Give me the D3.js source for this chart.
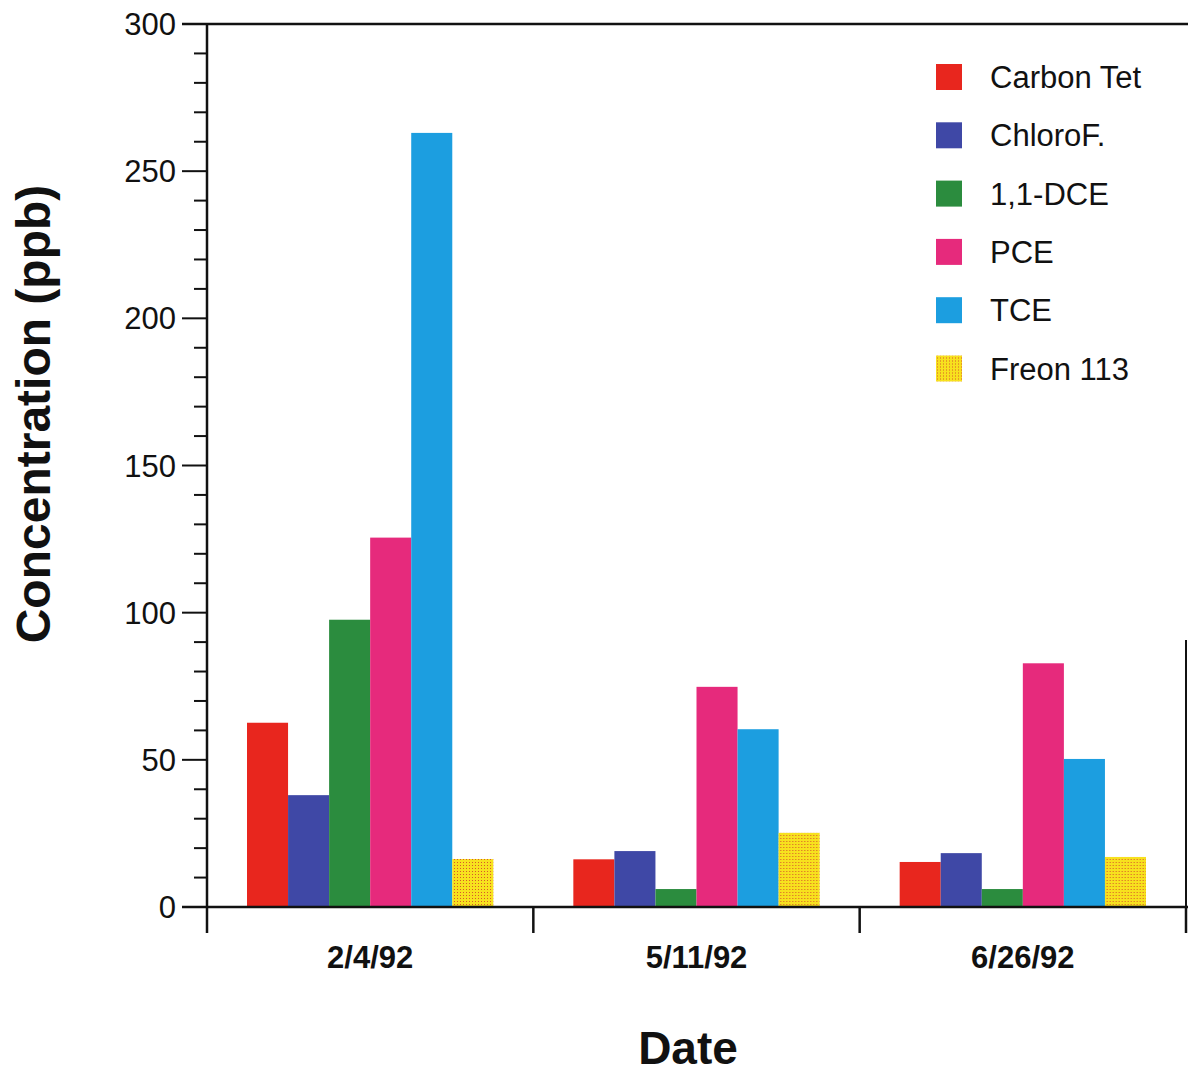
<!DOCTYPE html>
<html>
<head>
<meta charset="utf-8">
<script src="https://cdn.jsdelivr.net/npm/d3@7"></script>
<style>
  body { margin: 0; background: #fff; }
  text { font-family: "Liberation Sans", Arial, Helvetica, sans-serif; fill: #111; }
</style>
</head>
<body>
<div id="chart"></div>
<script>
// data
const dates = ["2/4/92", "5/11/92", "6/26/92"];
const compounds = ["Carbon Tet", "ChloroF.", "1,1-DCE", "PCE", "TCE", "Freon 113"];
const carbonTet = [62.6, 16.2, 15.3];
const chloroF = [38, 19, 18.3];
const dce = [97.6, 6.1, 6.1];
const pce = [125.5, 74.8, 82.8];
const tce = [263, 60.4, 50.3];
const freon = [16.3, 25.2, 17];
const yTicks = [0, 50, 100, 150, 200, 250, 300];
const compoundColors = ["#e8261e", "#3f48a6", "#2b8c3e", "#e62a7c", "#1c9ee0", "url(#dots)"];

const series = [carbonTet, chloroF, dce, pce, tce, freon];

const width = 1188, height = 1075;
const svg = d3.select('#chart').append('svg')
  .attr("width", width)
  .attr("height", height);

// halftone look of the yellow bars
const pat = svg.append("defs").append("pattern")
  .attr("id", "dots")
  .attr("width", 3).attr("height", 3)
  .attr("patternUnits", "userSpaceOnUse");
pat.append("rect").attr("width", 3).attr("height", 3).attr("fill", "#f7e11e");
pat.append("rect").attr("x", 1).attr("y", 1).attr("width", 1).attr("height", 1).attr("fill", "#d8582a");

const plotLeft = 207, plotRight = 1186, plotTop = 24, plotBottom = 907;

const y = d3.scaleLinear().domain([0, 300]).range([plotBottom, plotTop]);
const x0 = d3.scaleBand().domain(dates).range([plotLeft, plotRight]);
const x1 = d3.scaleBand().domain(compounds).range([40, x0.bandwidth() - 40]);

// bars
dates.forEach(function(d, i) {
  svg.append("g")
    .attr("transform", "translate(" + x0(d) + ",0)")
    .selectAll("rect")
    .data(compounds)
    .enter()
    .append("rect")
      .attr("x", function(c) { return x1(c); })
      .attr("y", function(c, j) { return y(series[j][i]); })
      .attr("width", x1.bandwidth())
      .attr("height", function(c, j) { return plotBottom - y(series[j][i]); })
      .attr("fill", function(c, j) { return compoundColors[j]; });
});

// left axis with major + minor ticks
const yAxis = svg.append("g").attr("transform", "translate(" + plotLeft + ",0)");
yAxis.append("line").attr("y1", plotTop).attr("y2", plotBottom).attr("stroke", "#111").attr("stroke-width", 2.5);
yAxis.selectAll(".minor")
  .data(d3.range(0, 301, 10).filter(function(v) { return v % 50 != 0; }))
  .enter().append("line")
    .attr("x1", -13).attr("x2", 0)
    .attr("y1", function(v) { return y(v); }).attr("y2", function(v) { return y(v); })
    .attr("stroke", "#111").attr("stroke-width", 2);
yAxis.selectAll(".major")
  .data(yTicks)
  .enter().append("line")
    .attr("x1", -25).attr("x2", 0)
    .attr("y1", function(v) { return y(v); }).attr("y2", function(v) { return y(v); })
    .attr("stroke", "#111").attr("stroke-width", 2);
yAxis.selectAll(".lbl")
  .data(yTicks)
  .enter().append("text")
    .attr("x", -31)
    .attr("y", function(v) { return y(v); })
    .attr("dy", "0.36em")
    .attr("text-anchor", "end")
    .style("font-size", "31px")
    .text(function(v) { return v; });

// top frame and baseline
svg.append("line").attr("x1", plotLeft - 25).attr("x2", width).attr("y1", plotTop).attr("y2", plotTop)
  .attr("stroke", "#111").attr("stroke-width", 2.5);
svg.append("line").attr("x1", plotLeft - 25).attr("x2", width).attr("y1", plotBottom).attr("y2", plotBottom)
  .attr("stroke", "#111").attr("stroke-width", 2.5);
svg.append("line").attr("x1", plotRight).attr("x2", plotRight).attr("y1", 640).attr("y2", plotBottom)
  .attr("stroke", "#111").attr("stroke-width", 2);

// x ticks at band edges + labels
const edges = dates.map(function(d) { return x0(d); }).concat([plotRight]);
svg.selectAll(".xt")
  .data(edges)
  .enter().append("line")
    .attr("x1", function(v) { return v; }).attr("x2", function(v) { return v; })
    .attr("y1", plotBottom).attr("y2", plotBottom + 26)
    .attr("stroke", "#111").attr("stroke-width", 2.5);
svg.selectAll(".xl")
  .data(dates)
  .enter().append("text")
    .attr("x", function(d) { return x0(d) + x0.bandwidth() / 2; })
    .attr("y", 968)
    .attr("text-anchor", "middle")
    .style("font-size", "31px")
    .style("font-weight", "bold")
    .text(function(d) { return d; });

// axis titles
svg.append("text")
  .attr("x", 688).attr("y", 1064)
  .attr("text-anchor", "middle")
  .style("font-size", "46px")
  .style("font-weight", "bold")
  .text("Date");
svg.append("text")
  .attr("transform", "translate(50,414) rotate(-90)")
  .attr("text-anchor", "middle")
  .style("font-size", "48px")
  .style("font-weight", "bold")
  .text("Concentration (ppb)");

// legend
const legend = svg.append("g").attr("transform", "translate(936,77)");
const item = legend.selectAll("g")
  .data(compounds)
  .enter().append("g")
    .attr("transform", function(c, i) { return "translate(0," + (i * 58.3) + ")"; });
item.append("rect")
  .attr("x", 0).attr("y", -13)
  .attr("width", 26).attr("height", 26)
  .attr("fill", function(c, i) { return compoundColors[i]; });
item.append("text")
  .attr("x", 54).attr("y", 0)
  .attr("dy", "0.36em")
  .style("font-size", "31px")
  .text(function(c) { return c; });
</script>
</body>
</html>
